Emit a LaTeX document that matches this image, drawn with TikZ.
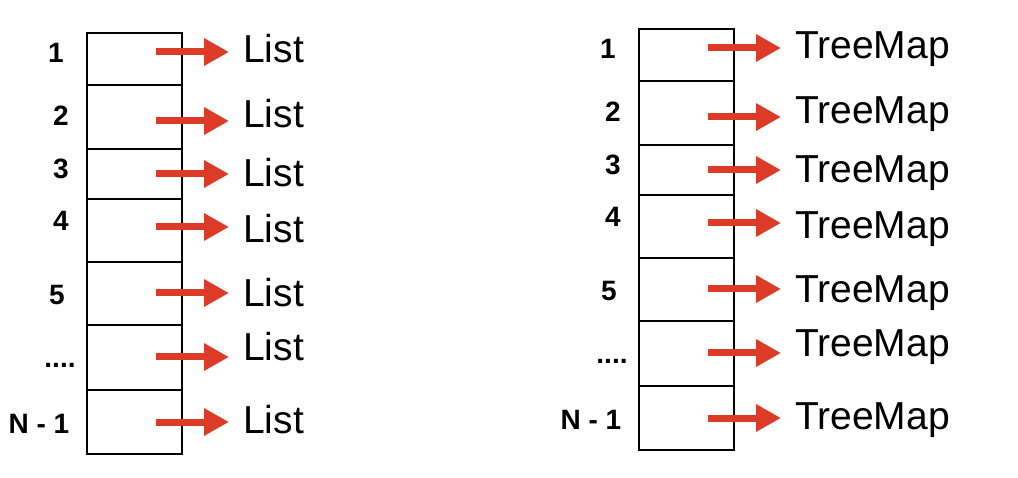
\documentclass[tikz,border=0pt]{standalone}
\usepackage{fontspec}
\setmainfont{Liberation Sans}
\usetikzlibrary{arrows.meta,positioning,calc}
\definecolor{PtrRed}{HTML}{DC3C27}
\newcommand{\morerows}{....}

\begin{document}
\begin{tikzpicture}[x=1pt,y=-1pt,
  cell/.style={draw,line width=2pt,inner sep=0pt,minimum width=95pt},
  idx/.style={anchor=base,inner sep=0pt,font=\fontsize{28}{30}\selectfont\bfseries},
  tgt/.style={anchor=base west,inner sep=0pt,font=\fontsize{39}{41}\selectfont},
  ptr/.style={-{Triangle[length=25pt,width=26pt]},line width=7pt,PtrRed,shorten >=14pt},
]
\useasboundingbox (0,0) rectangle (1018,478);
\foreach \c/\txt/\dx/\dy in {L/List/0/0,R/TreeMap/552/-4}{
  \begin{scope}[shift={(\dx,\dy)}]
  % bucket cells, index labels and the chained structure
  \foreach \i/\top/\bot/\ay/\lb/\nx/\nb/\num in {
      1/33/85/52/63/56/63/1,
      2/85/149/121/128/61/126/2,
      3/149/199/174/187/61/179/3,
      4/199/262/227/243/61/231/4,
      5/262/325/293/307/57/305/5,
      6/325/390/357/361/60/368/\morerows,
      7/390/454/422/433/39/433/N - 1}{
    \node[cell,minimum height={\bot pt-\top pt}] (\c c\i) at (134.5,{(\top+\bot)/2}) {};
    \node[idx] (\c n\i) at (\nx,\nb) {\num};
    \node[tgt] (\c t\i) at (243,\lb) {\txt};
    \coordinate (\c a\i) at (156,\ay);
  }
  \foreach \i in {1,...,7}
    \draw[ptr] (\c a\i) -- (\c a\i -| \c t\i.west);
  \end{scope}
}
\end{tikzpicture}
\end{document}
